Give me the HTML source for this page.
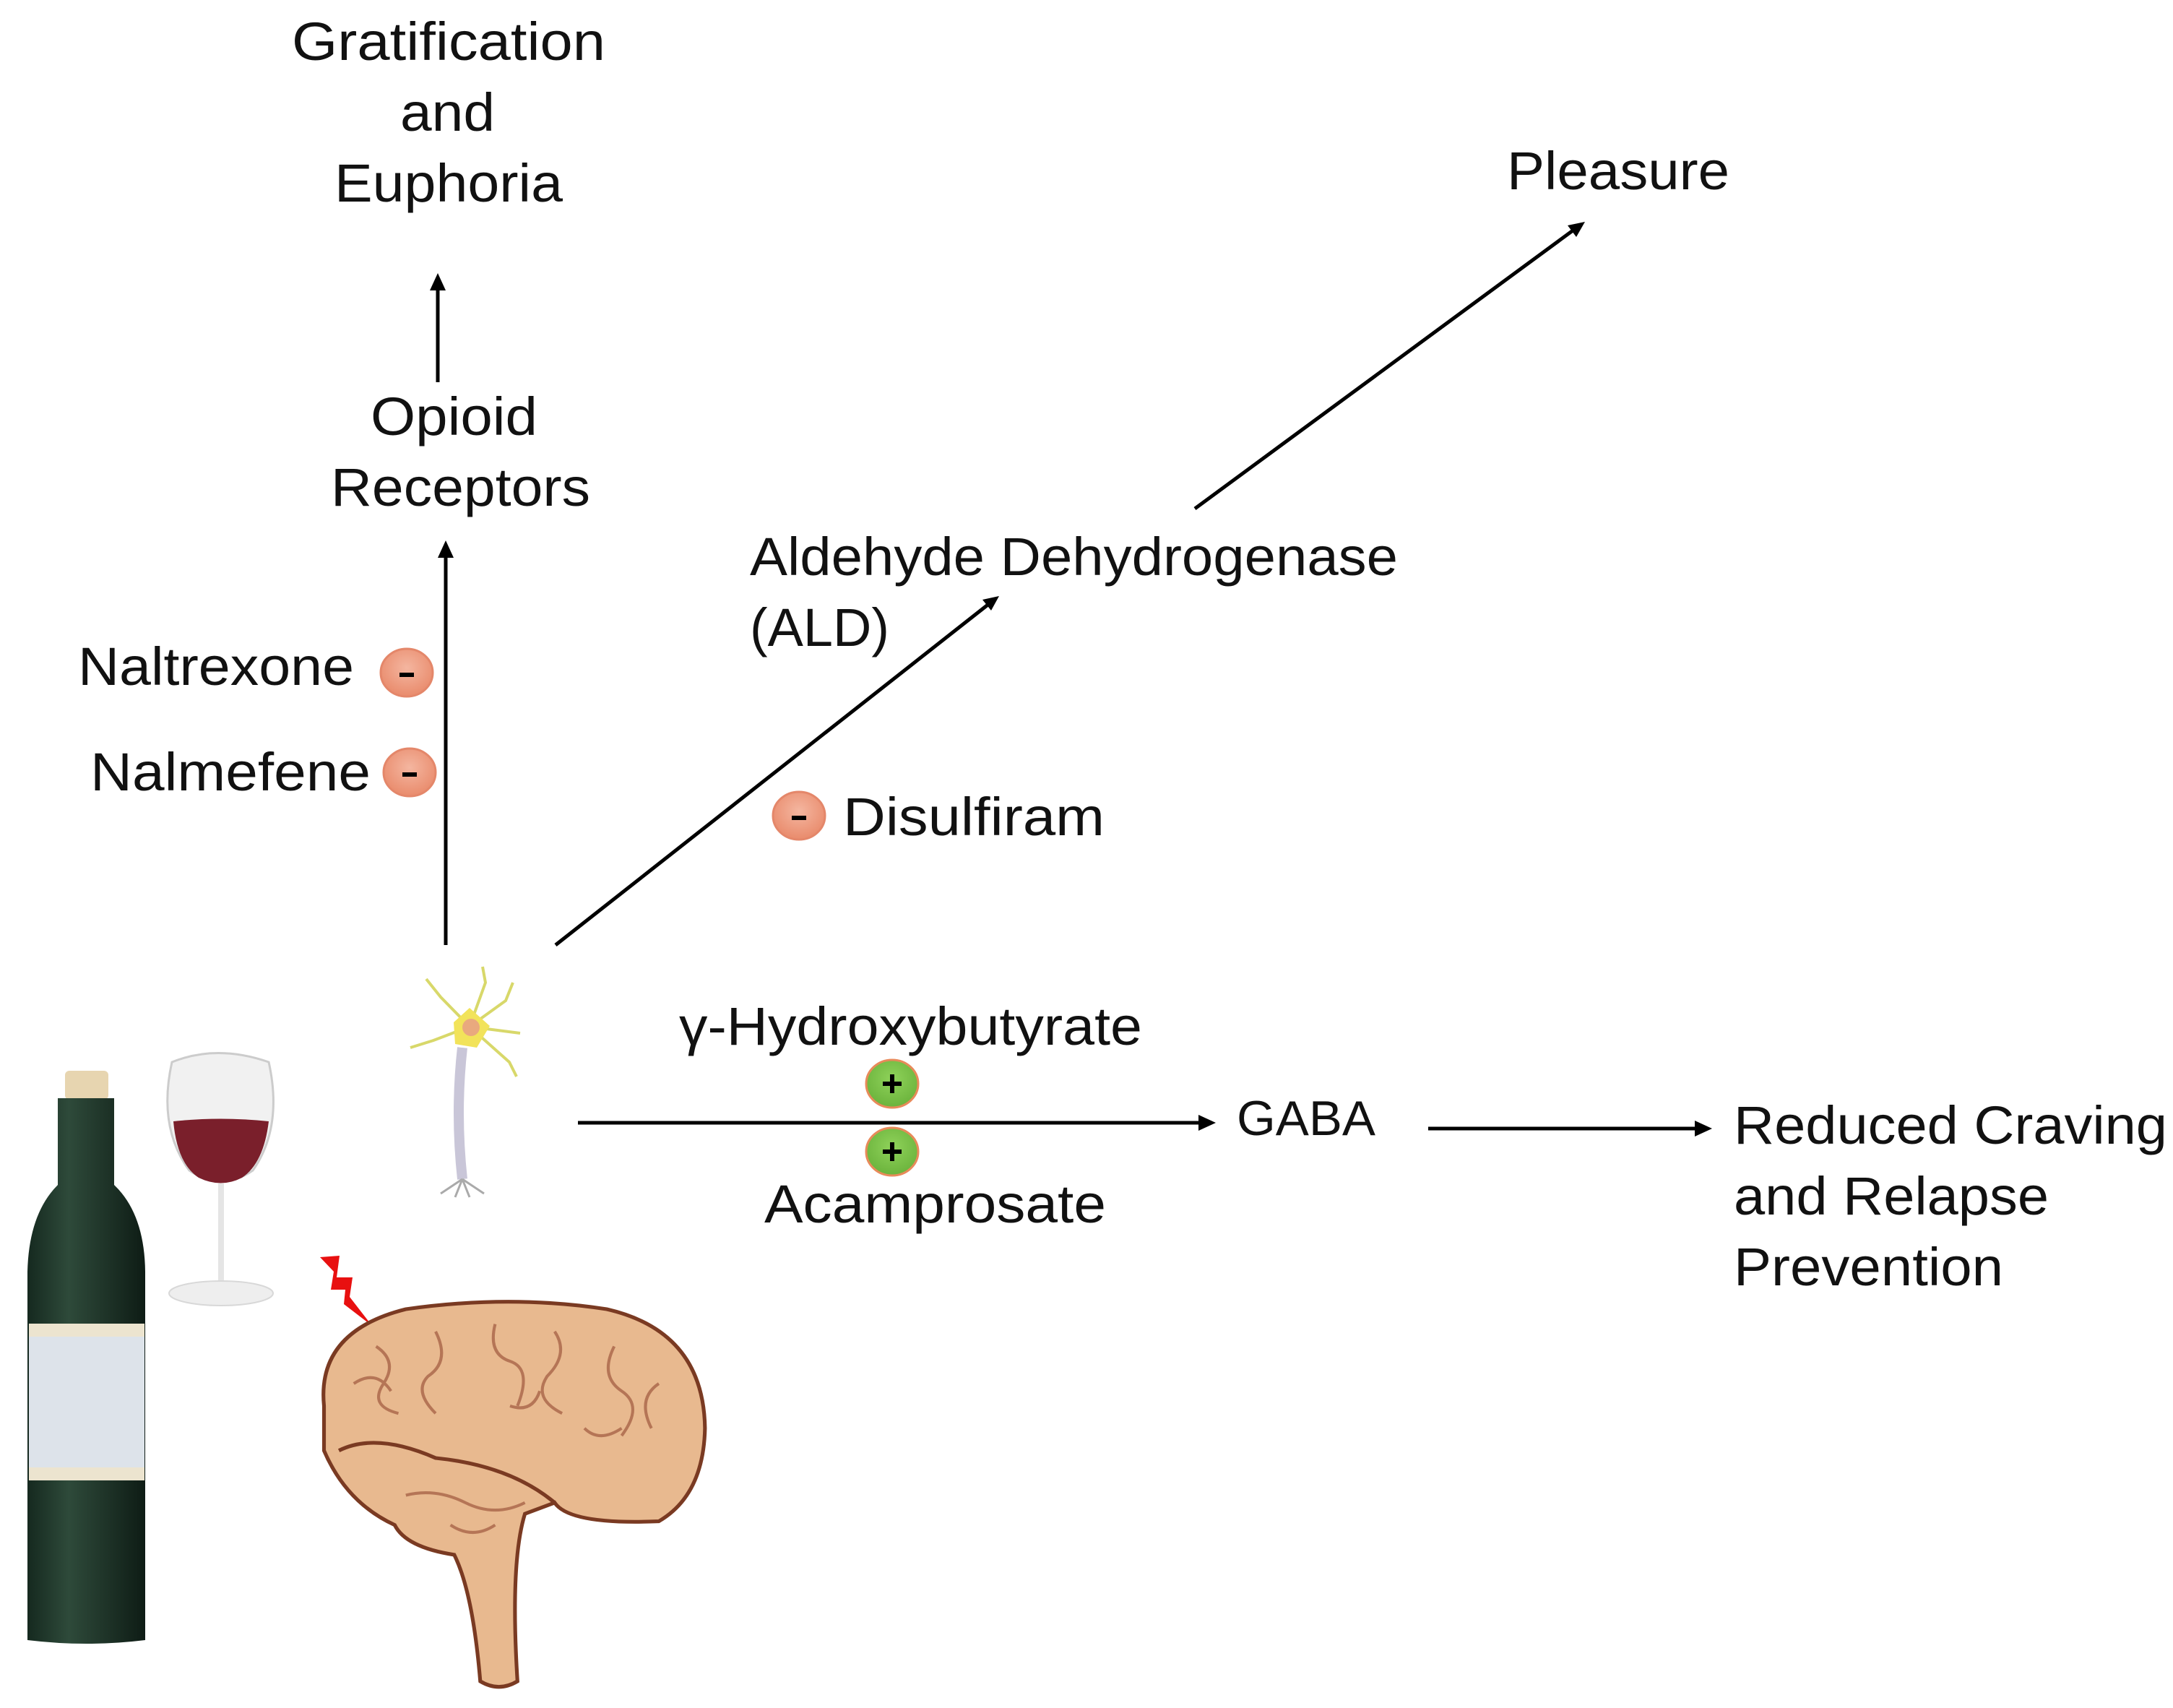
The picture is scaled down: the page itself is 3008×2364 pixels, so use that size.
<!DOCTYPE html>
<html><head><meta charset="utf-8"><style>
html,body{margin:0;padding:0;background:#fff}
svg{display:block}
text{font-family:"Liberation Sans",sans-serif;font-size:74px;fill:#111}
</style></head><body>
<svg width="3008" height="2364" viewBox="0 0 3008 2364" xmlns="http://www.w3.org/2000/svg">
<defs>
<radialGradient id="minus" cx="50%" cy="40%" r="60%"><stop offset="0" stop-color="#f4b6a0"/><stop offset="1" stop-color="#e98b6c"/></radialGradient>
<radialGradient id="plus" cx="50%" cy="40%" r="60%"><stop offset="0" stop-color="#8fd25a"/><stop offset="1" stop-color="#6bb33c"/></radialGradient>
<linearGradient id="bot" x1="0" x2="1"><stop offset="0" stop-color="#15291f"/><stop offset=".35" stop-color="#2e4a3a"/><stop offset="1" stop-color="#0e1c15"/></linearGradient>
</defs>
<g stroke="#000" stroke-width="5" fill="none">
<line x1="606" y1="529" x2="606" y2="395"/>
<line x1="617" y1="1308" x2="617" y2="765"/>
<line x1="769" y1="1308" x2="1370" y2="835"/>
<line x1="1654" y1="704" x2="2180" y2="317"/>
<line x1="800" y1="1554" x2="1665" y2="1554"/>
<line x1="1977" y1="1562" x2="2352" y2="1562"/>
</g>
<g fill="#000">
<polygon points="606,378 595,402 617,402"/>
<polygon points="617,748 606,772 628,772"/>
<polygon points="1383,825 1360,830 1372,845"/>
<polygon points="2194,307 2170,312 2182,328"/>
<polygon points="1683,1554 1659,1543 1659,1565"/>
<polygon points="2370,1562 2346,1551 2346,1573"/>
</g>
<g>
<text x="404" y="83" textLength="434" lengthAdjust="spacingAndGlyphs">Gratification</text>
<text x="554" y="181" textLength="131" lengthAdjust="spacingAndGlyphs">and</text>
<text x="463" y="279" textLength="316" lengthAdjust="spacingAndGlyphs">Euphoria</text>
<text x="513" y="602" textLength="231" lengthAdjust="spacingAndGlyphs">Opioid</text>
<text x="458" y="700" textLength="359" lengthAdjust="spacingAndGlyphs">Receptors</text>
<text x="108" y="948" textLength="382" lengthAdjust="spacingAndGlyphs">Naltrexone</text>
<text x="125" y="1094" textLength="388" lengthAdjust="spacingAndGlyphs">Nalmefene</text>
<text x="1038" y="796" textLength="897" lengthAdjust="spacingAndGlyphs">Aldehyde Dehydrogenase</text>
<text x="1038" y="894" textLength="193" lengthAdjust="spacingAndGlyphs">(ALD)</text>
<text x="2086" y="262" textLength="308" lengthAdjust="spacingAndGlyphs">Pleasure</text>
<text x="1167" y="1156" textLength="362" lengthAdjust="spacingAndGlyphs">Disulfiram</text>
<text x="940" y="1446" textLength="641" lengthAdjust="spacingAndGlyphs">γ-Hydroxybutyrate</text>
<text x="1058" y="1692" textLength="473" lengthAdjust="spacingAndGlyphs">Acamprosate</text>
<text x="1712" y="1571" textLength="192" lengthAdjust="spacingAndGlyphs" style="font-size:68px">GABA</text>
<text x="2400" y="1583" textLength="600" lengthAdjust="spacingAndGlyphs">Reduced Craving</text>
<text x="2400" y="1681" textLength="436" lengthAdjust="spacingAndGlyphs">and Relapse</text>
<text x="2400" y="1779" textLength="373" lengthAdjust="spacingAndGlyphs">Prevention</text>
</g>
<g stroke="#e4876a" stroke-width="3">
<ellipse cx="563" cy="931" rx="36" ry="33" fill="url(#minus)"/>
<ellipse cx="567" cy="1069" rx="36" ry="33" fill="url(#minus)"/>
<ellipse cx="1106" cy="1129" rx="36" ry="33" fill="url(#minus)"/>
<ellipse cx="1235" cy="1500" rx="36" ry="33" fill="url(#plus)" stroke="#e88a5a"/>
<ellipse cx="1235" cy="1594" rx="36" ry="33" fill="url(#plus)" stroke="#e88a5a"/>
</g>
<g stroke="#000" stroke-width="6">
<line x1="553" y1="934" x2="573" y2="934"/><line x1="557" y1="1072" x2="577" y2="1072"/><line x1="1096" y1="1132" x2="1116" y2="1132"/>
<line x1="1222" y1="1500" x2="1248" y2="1500"/><line x1="1235" y1="1487" x2="1235" y2="1513"/>
<line x1="1222" y1="1594" x2="1248" y2="1594"/><line x1="1235" y1="1581" x2="1235" y2="1607"/>
</g>
<!-- bottle -->
<rect x="90" y="1482" width="60" height="40" rx="6" fill="#e7d5b0"/>
<path d="M80 1520 H158 V1640 Q200 1680 201 1760 V2270 Q120 2280 38 2270 V1760 Q40 1680 80 1640 Z" fill="url(#bot)"/>
<rect x="40" y="1832" width="160" height="217" fill="#dde3ea"/>
<rect x="40" y="1832" width="160" height="18" fill="#ece4cf"/>
<rect x="40" y="2031" width="160" height="18" fill="#ece4cf"/>
<!-- glass -->
<path d="M238 1470 Q300 1445 372 1470 Q392 1560 350 1620 Q306 1650 262 1620 Q218 1560 238 1470Z" fill="#f1f1f1" stroke="#ccc" stroke-width="3"/>
<path d="M240 1552 Q305 1545 372 1552 Q365 1610 335 1630 Q306 1645 275 1630 Q245 1610 240 1552Z" fill="#7a1f2b"/>
<rect x="302" y="1638" width="8" height="150" fill="#e5e5e5"/>
<ellipse cx="306" cy="1790" rx="72" ry="17" fill="#eeeeee" stroke="#d8d8d8" stroke-width="2"/>
<!-- lightning -->
<polygon points="443,1740 470,1738 466,1768 488,1768 484,1795 515,1835 476,1805 478,1785 458,1785 462,1760" fill="#e81010"/>
<!-- brain -->
<g transform="translate(-15,-42) scale(1.03)">
<path d="M450 1930 Q440 1830 560 1800 Q700 1780 830 1800 Q960 1830 962 1960 Q960 2050 900 2085 Q780 2090 760 2060 L720 2075 Q700 2140 710 2300 Q685 2315 660 2300 Q650 2180 625 2130 Q560 2120 545 2090 Q480 2060 450 1990 Z" fill="#e8b98f" stroke="#7a3a22" stroke-width="5"/>
<path d="M470 1990 Q520 1965 600 2000 Q700 2010 760 2060" fill="none" stroke="#7a3a22" stroke-width="5"/>
<g fill="none" stroke="#b57556" stroke-width="4">
<path d="M520 1850 q30 20 10 50 q-20 30 20 40"/><path d="M600 1830 q20 40 -10 60 q-20 20 10 50"/>
<path d="M680 1820 q-10 40 20 50 q30 10 10 60"/><path d="M760 1830 q20 30 -10 60 q-20 30 20 50"/>
<path d="M840 1850 q-20 40 10 60 q30 20 0 60"/><path d="M900 1900 q-30 20 -10 60"/>
<path d="M560 2050 q40 -10 80 10 q40 20 80 0"/><path d="M620 2090 q30 20 60 0"/>
<path d="M490 1900 q30 -20 50 10"/><path d="M700 1930 q30 10 40 -20"/><path d="M800 1960 q20 20 50 0"/>
</g>
</g>
<!-- neuron -->
<g fill="none" stroke="#d8d86a" stroke-width="4">
<path d="M650 1421 L610 1380 L590 1355"/><path d="M650 1421 L672 1360 L668 1338"/>
<path d="M650 1421 L700 1385 L710 1360"/><path d="M650 1421 L720 1430"/>
<path d="M650 1421 L600 1440 L568 1450"/><path d="M650 1421 L705 1470 L715 1490"/>
</g>
<path d="M650 1395 L678 1420 L660 1450 L630 1445 L628 1415Z" fill="#f2e35a"/>
<circle cx="652" cy="1422" r="12" fill="#e9a97e"/>
<path d="M640 1450 Q630 1540 640 1632" fill="none" stroke="#c9c6d8" stroke-width="14"/>
<g stroke="#aaa" stroke-width="3" fill="none"><path d="M640 1632 l-30 20 M640 1632 l-10 25 M640 1632 l10 25 M640 1632 l30 20"/></g>
</svg>
</body></html>
